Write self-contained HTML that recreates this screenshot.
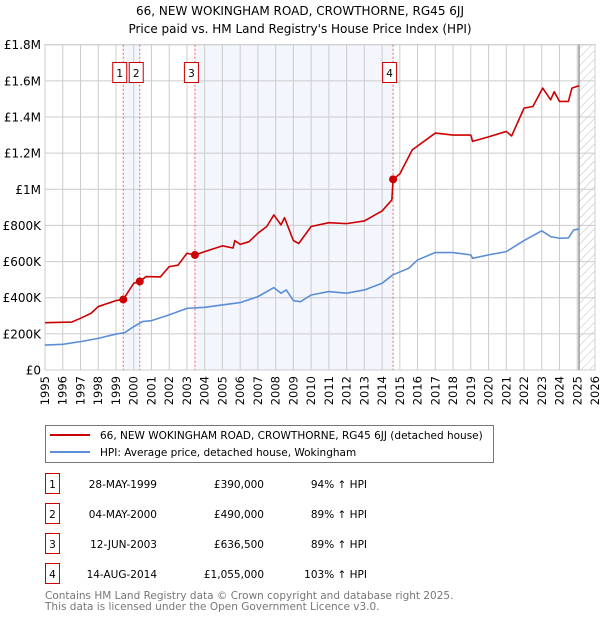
<!DOCTYPE html>
<html><head><meta charset="utf-8"><style>
body{margin:0;background:#fff;font-family:"DejaVu Sans","Liberation Sans",sans-serif;}
svg text{font-family:"DejaVu Sans","Liberation Sans",sans-serif;}
</style></head><body>
<svg id="chart" width="600" height="620" xmlns="http://www.w3.org/2000/svg">
<defs><pattern id="hatch" patternUnits="userSpaceOnUse" width="6" height="6" patternTransform="rotate(45)"><line x1="0" y1="0" x2="0" y2="6" stroke="#bbb" stroke-width="1"/></pattern></defs>
<text x="300" y="15" text-anchor="middle" font-size="12">66, NEW WOKINGHAM ROAD, CROWTHORNE, RG45 6JJ</text>
<text x="300" y="33" text-anchor="middle" font-size="12">Price paid vs. HM Land Registry's House Price Index (HPI)</text>
<g id="plot"></g>
<g>
<rect x="45.5" y="425.5" width="448" height="37" fill="#fff" stroke="#777"/>
<line x1="50" y1="435" x2="90" y2="435" stroke="#cc0000" stroke-width="2"/>
<text x="100" y="439" font-size="10.5">66, NEW WOKINGHAM ROAD, CROWTHORNE, RG45 6JJ (detached house)</text>
<line x1="50" y1="452" x2="90" y2="452" stroke="#5b8ed6" stroke-width="2"/>
<text x="100" y="456" font-size="10.5">HPI: Average price, detached house, Wokingham</text>
</g>
<g id="table" font-size="10.5"></g>
<text x="45" y="599" font-size="10.5" fill="#777">Contains HM Land Registry data © Crown copyright and database right 2025.</text>
<text x="45" y="610" font-size="10.5" fill="#777">This data is licensed under the Open Government Licence v3.0.</text>
</svg>
<script>
const hpiYears=[1995,1996,1997,1998,1999,1999.5,2000,2000.5,2001,2002,2003,2004,2005,2006,2007,2007.9,2008.3,2008.6,2009,2009.4,2010,2011,2012,2013,2014,2014.6,2015.5,2016,2017,2018,2019,2019.1,2020,2021,2022,2023,2023.5,2024,2024.5,2024.8,2025.1];
const hpiValues=[138,142,157,175,199,207,240,268,273,305,341,347,360,373,406,456,425,443,384,378,415,434,425,443,480,526,563,609,650,650,637,618,637,655,716,770,738,729,731,775,780];
const ppYears=[1995,1996.5,1997,1997.6,1998,1999,1999.41,2000,2000.34,2000.7,2001.5,2002,2002.5,2003,2003.45,2004,2005,2005.6,2005.7,2006,2006.5,2007,2007.5,2007.9,2008.3,2008.5,2009,2009.3,2010,2011,2012,2013,2014,2014.55,2014.62,2015,2015.7,2017,2018,2019,2019.1,2020,2021,2021.3,2022,2022.5,2023.05,2023.5,2023.7,2024,2024.5,2024.7,2025.1];
const ppValues=[262,265,286,314,351,384,390,480,490,517,515,572,580,646,636,655,687,675,716,695,710,757,794,858,803,843,716,700,794,815,810,825,880,941,1055,1085,1218,1311,1300,1300,1265,1290,1320,1295,1449,1458,1560,1495,1540,1486,1486,1560,1573];
const saleYears=[1999.41,2000.34,2003.45,2014.62];
const saleValues=[390,490,636.5,1055];
const saleLabels=["1","2","3","4"];
const saleDates=["28-MAY-1999","04-MAY-2000","12-JUN-2003","14-AUG-2014"];
const salePrices=["£390,000","£490,000","£636,500","£1,055,000"];
const saleHpi=["94% ↑ HPI","89% ↑ HPI","89% ↑ HPI","103% ↑ HPI"];
const yTicks=[0,200,400,600,800,1000,1200,1400,1600,1800];
const yTickLabels=["£0","£200K","£400K","£600K","£800K","£1M","£1.2M","£1.4M","£1.6M","£1.8M"];
const nowYear=2025.1;
const NS="http://www.w3.org/2000/svg";
const L=45,R=595,T=44.7,B=370,x0=1995,x1=2026,ymax=1800;
const X=v=>L+(v-x0)/(x1-x0)*(R-L);
const Y=v=>B-v/ymax*(B-T);
const plot=document.getElementById('plot');
function mk(tag,attrs,parent){const e=document.createElementNS(NS,tag);for(const k in attrs)e.setAttribute(k,attrs[k]);(parent||plot).appendChild(e);return e;}
for(let i=0;i<saleYears.length;i+=2){
 const r=mk('rect',{x:X(saleYears[i]),y:T,width:X(saleYears[i+1])-X(saleYears[i]),height:B-T,fill:'#f3f6fd'});
 
 
}
const h=mk('rect',{x:X(nowYear),y:T,width:R-X(nowYear),height:B-T,fill:'url(#hatch)'});


for(let yr=x0;yr<=x1;yr++){
 const g=mk('line',{x1:X(yr),x2:X(yr),y1:T,y2:B,stroke:'#ccc','stroke-width':1});
 
 
 const t=mk('text',{x:0,y:0,'font-size':11.5,'text-anchor':'end',transform:`translate(${X(yr)+4},${B+6}) rotate(-90)`});
 t.textContent=yr;
 
 
}
yTicks.forEach((v,i)=>{
 const g=mk('line',{x1:L,x2:R,y1:Y(v),y2:Y(v),stroke:'#ccc','stroke-width':1});
 
 
 const t=mk('text',{x:L-4,y:Y(v)+4.5,'font-size':12,'text-anchor':'end'});
 t.textContent=yTickLabels[i];
 
 
});
const border=mk('rect',{x:L,y:T,width:R-L,height:B-T,fill:'none',stroke:'#ccc'});


const nl=mk('line',{x1:X(nowYear),x2:X(nowYear),y1:T,y2:B,stroke:'#999','stroke-width':1.5});


saleYears.forEach((s,i)=>{
 const l=mk('line',{x1:X(s),x2:X(s),y1:T,y2:B,stroke:'#f06060','stroke-width':1,'stroke-dasharray':'2,2'});
 
 
 const b=mk('rect',{x:X(s)-10.5,y:62.5,width:14,height:20,fill:'#fff',stroke:'#cc0000'});
 
 
 const t=mk('text',{x:X(s)-3.5,y:77,'font-size':10.5,'text-anchor':'middle'});
 t.textContent=saleLabels[i];
 
 
});
function line(xs,vs,color,name){
 const p=mk('polyline',{points:xs.map((x,i)=>X(x)+','+Y(vs[i])).join(' '),fill:'none',stroke:color,'stroke-width':1.6,'stroke-linejoin':'round'});
 
 
}
line(hpiYears,hpiValues,'#5b8ed6','hpi-line');
line(ppYears,ppValues,'#cc0000','price-paid-line');
saleYears.forEach((s,i)=>{
 const c=mk('circle',{cx:X(s),cy:Y(saleValues[i]),r:4,fill:'#cc0000'});
 
 
});
const tb=document.getElementById('table');
saleLabels.forEach((lab,i)=>{
 const y=474+i*30;
 const b=mk('rect',{x:45.5,y:y-0.5,width:14,height:20,fill:'#fff',stroke:'#cc0000'},tb);
 
 
 const cells=[[52.5,lab,'middle'],[157,saleDates[i],'end'],[264,salePrices[i],'end'],[367,saleHpi[i],'end']];
 cells.forEach(c=>{
  const t=mk('text',{x:c[0],y:y+14,'text-anchor':c[2],'font-size':10.5},tb);
  t.textContent=c[1];
  
  
 });
});
</script>
</body></html>
